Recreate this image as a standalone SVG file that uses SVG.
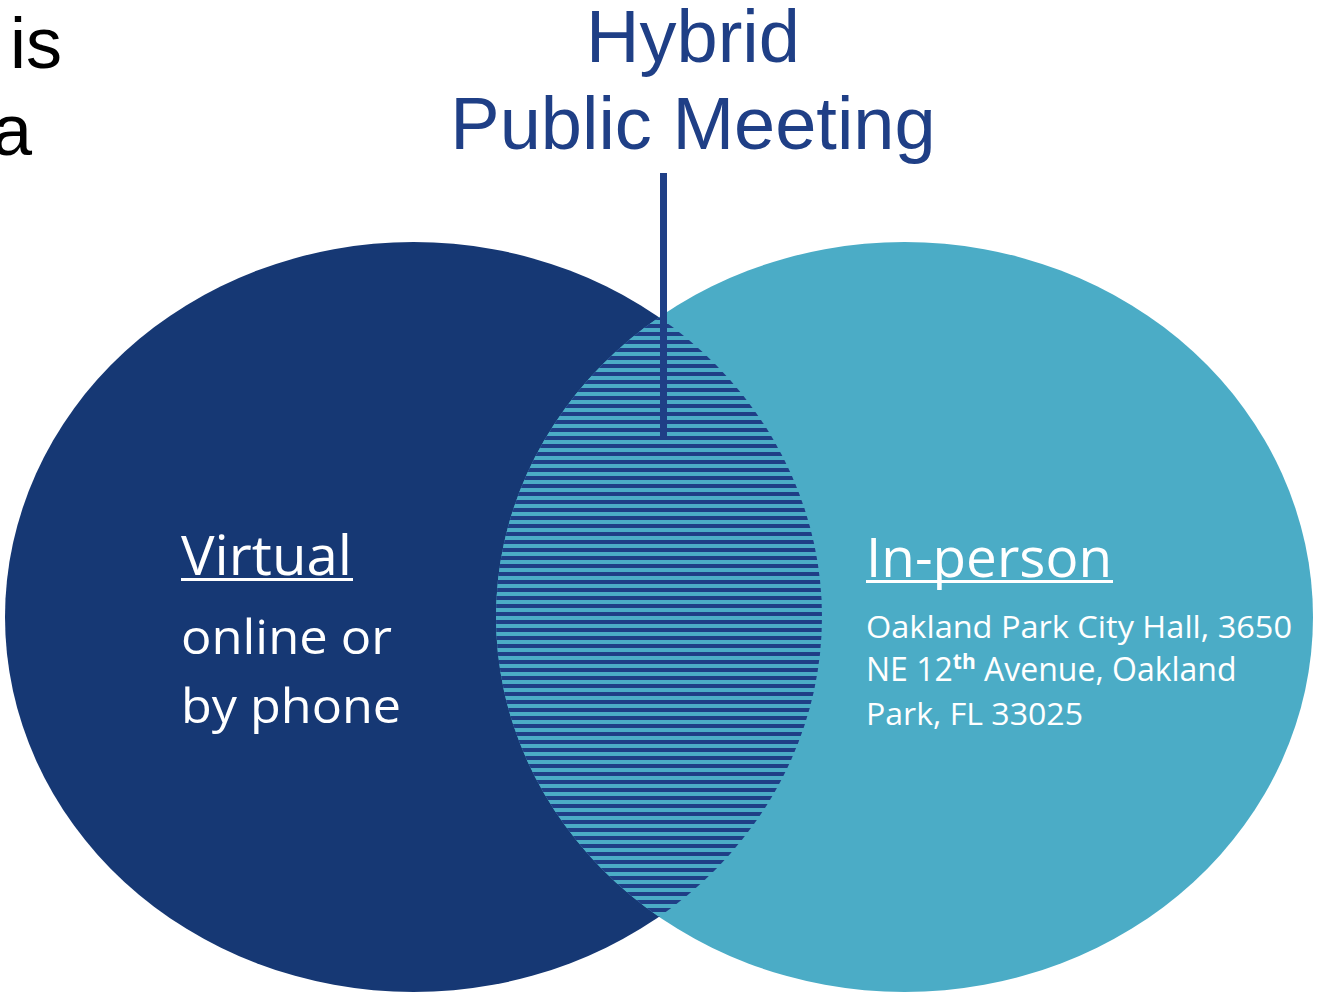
<svg xmlns="http://www.w3.org/2000/svg" width="1318" height="993" viewBox="0 0 1318 993">
<style>
.head{font-family:"Liberation Sans",Arial,sans-serif;font-size:74px;fill:#1F3F86;text-anchor:middle}
.side{font-family:"Liberation Sans",Arial,sans-serif;font-size:72px;fill:#000}
.lbl{font-family:"Open Sans","Noto Sans",sans-serif;fill:#fff}
</style>
<defs>
<pattern id="hatch" patternUnits="userSpaceOnUse" x="0" y="0" width="8" height="8">
<rect width="8" height="8" fill="#4BACC6"/>
<rect y="4" width="8" height="4" fill="#1F3F86"/>
</pattern>
<clipPath id="rightClip"><ellipse cx="904.5" cy="617" rx="408.5" ry="375"/></clipPath>
</defs>
<rect width="1318" height="993" fill="#fff"/>
<g id="virtual">
<ellipse cx="413.5" cy="617" rx="408.5" ry="375" fill="#163874"/>
</g>
<g id="in-person">
<ellipse cx="904.5" cy="617" rx="408.5" ry="375" fill="#4BACC6"/>
</g>
<g id="hybrid">
<ellipse cx="413.5" cy="617" rx="408.5" ry="375" fill="url(#hatch)" clip-path="url(#rightClip)"/>
</g>
<g id="connectors">
<rect x="660" y="173" width="7" height="267" fill="#1F3F86"/>
</g>
<g id="title">
<text class="head" x="693" y="62">Hybrid</text>
<text class="head" x="693" y="149">Public Meeting</text>
</g>
<g id="cut-text">
<text class="side" x="10" y="68">is</text>
<text class="side" x="-8" y="155">a</text>
</g>
<g id="virtual-text">
<text class="lbl" x="181" y="575" font-size="54" textLength="171" lengthAdjust="spacingAndGlyphs">Virtual</text>
<rect x="181" y="578" width="172" height="3" fill="#fff"/>
<text class="lbl" x="181" y="654" font-size="48" textLength="211" lengthAdjust="spacingAndGlyphs">online or</text>
<text class="lbl" x="181" y="723" font-size="48" textLength="220" lengthAdjust="spacingAndGlyphs">by phone</text>
</g>
<g id="in-person-text">
<text class="lbl" x="866" y="577" font-size="54" textLength="246" lengthAdjust="spacingAndGlyphs">In-person</text>
<rect x="866" y="580" width="247" height="3" fill="#fff"/>
<text class="lbl" x="866" y="638" font-size="31" textLength="426" lengthAdjust="spacingAndGlyphs">Oakland Park City Hall, 3650</text>
<text class="lbl" x="866" y="681" font-size="32">NE 12<tspan font-size="21" font-weight="bold" dy="-12">th</tspan><tspan dy="12"> Avenue, Oakland</tspan></text>
<text class="lbl" x="866" y="725" font-size="31" textLength="217" lengthAdjust="spacingAndGlyphs">Park, FL 33025</text>
</g>
</svg>
